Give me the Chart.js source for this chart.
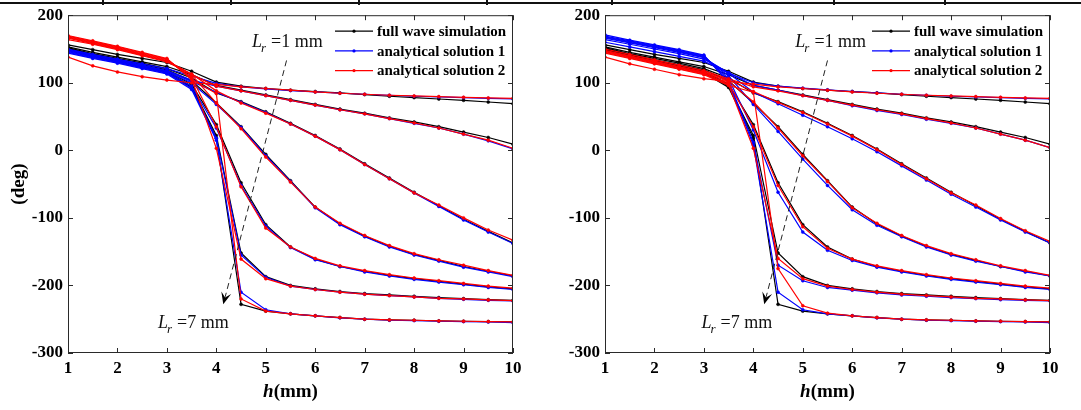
<!DOCTYPE html>
<html>
<head>
<meta charset="utf-8">
<script src="https://cdn.jsdelivr.net/npm/chart.js@4.4.0/dist/chart.umd.min.js"></script>
<style>
html,body{margin:0;padding:0;background:#fff;}
body{width:1081px;height:410px;position:relative;overflow:hidden;}
.panel{position:absolute;top:0;height:410px;}
#topline{position:absolute;left:0;top:2px;width:1081px;height:2px;background:#111;}
.mark{position:absolute;top:0;width:2px;height:5px;background:#111;}
</style>
</head>
<body>
<div id="topline"></div>
<div class="mark" style="left:102px"></div>
<div class="mark" style="left:230px"></div>
<div class="mark" style="left:358px"></div>
<div class="mark" style="left:486px"></div>
<div class="mark" style="left:611px"></div>
<div class="mark" style="left:722px"></div>
<div class="mark" style="left:833px"></div>
<div class="mark" style="left:944px"></div>
<canvas id="left" class="panel" style="left:0px" width="540" height="410"></canvas>
<canvas id="right" class="panel" style="left:540px" width="541" height="410"></canvas>
<script>
// ---------------- DATA ----------------
const hValues = [1, 1.5, 2, 2.5, 3, 3.5, 4, 4.5, 5, 5.5, 6, 6.5, 7, 7.5, 8, 8.5, 9, 9.5, 10];
const lrValues = [1, 2, 3, 4, 5, 6, 7];
const seriesNames = ['full wave simulation', 'analytical solution 1', 'analytical solution 2'];
const xTicks = [1, 2, 3, 4, 5, 6, 7, 8, 9, 10];
const yTicks = [-300, -200, -100, 0, 100, 200];

// full wave simulation (same in both panels), one row per Lr = 1..7 mm
const fullWave = [
  [156, 149, 142, 136, 130, 117, 101, 95, 91.5, 89, 87, 85, 82.5, 80, 78, 76, 74, 71.5, 69],
  [153, 145, 138, 131, 124, 112, 96, 89, 82, 75, 68, 61, 55, 48, 42, 35, 27, 19, 9],
  [152, 143, 136, 129, 121, 107, 85, 72, 57, 40, 22, 2, -20, -41, -62, -82, -102, -120, -137],
  [151, 142, 134, 127, 119, 103, 70, 35, -6, -45, -84, -109, -127, -142, -154, -163, -172, -179, -186],
  [150, 141, 133, 125, 117, 98, 38, -48, -110, -143, -161, -172, -179, -185, -190, -194, -198, -202, -205],
  [149, 140, 132, 124, 116, 95, 22, -152, -187, -200, -205, -209, -212, -214, -216, -218, -219.5, -221, -222],
  [148, 139, 131, 123, 115, 93, 18, -228, -238, -242, -245, -247.5, -250, -251, -251.5, -252.5, -253, -253.5, -254]
];

// left panel
const analytical1Left = [
  [150, 142, 135, 128, 121, 110, 99, 94, 91, 88.5, 86.5, 84.5, 83, 81.5, 80, 79, 78, 77, 76],
  [149, 141, 134, 126, 118, 104, 95, 88, 81, 74, 67, 60, 54, 47, 40, 33, 24, 14, 2],
  [148, 140, 133, 125, 117, 102, 86, 71, 56, 39, 21, 1, -21, -42, -63, -83, -103, -121, -138],
  [147, 139, 132, 124, 116, 100, 68, 34, -8, -46, -85, -110, -128, -143, -155, -164, -173, -180, -187],
  [146, 138, 131, 123, 115, 95, 33, -52, -112, -144, -162, -172, -180, -186, -191, -195, -199, -203, -206],
  [145, 137, 130, 122, 114, 92, 18, -155, -188, -201, -206, -210, -213, -215, -217, -219, -220.5, -222, -223],
  [144, 136, 129, 121, 113, 90, 15, -210, -236, -242, -245, -248, -250, -251.5, -252, -253, -253.5, -254, -255]
];
const analytical2Left = [
  [138, 125, 116, 109, 104, 100, 97.5, 94, 91.5, 89, 86.5, 84.5, 83, 81.5, 80.5, 79.5, 78.5, 77.5, 77],
  [164, 157, 149, 140, 131, 112, 95, 88, 81, 74, 67, 60, 54, 47, 40.5, 33, 24, 15, 3],
  [166, 158, 150, 141, 132, 113, 88, 70, 55, 39, 21, 1, -21, -42, -63, -81, -100, -118, -133],
  [167, 159, 151, 142, 133, 112, 70, 32, -10, -47, -84, -108, -126, -141, -153, -162, -170, -178, -185],
  [168, 160, 152, 143, 134, 108, 35, -54, -115, -143, -160, -171, -178, -184, -189, -193, -197, -201, -204],
  [169, 161, 153, 144, 135, 106, 3, -161, -190, -201, -206, -210, -213, -215, -217, -219, -220, -221.5, -222.5],
  [170, 162, 154, 145, 136, 105, 84, -220, -238, -242, -245, -247.5, -250, -251, -251.5, -252.5, -253, -253.5, -254]
];

// right panel
const analytical1Right = [
  [160, 153, 146, 139, 132, 114, 100, 95, 92, 89.5, 87, 85, 83, 81.5, 80, 79, 78, 77, 76],
  [164, 157, 150, 143, 135, 115, 96, 89, 81, 74, 66, 59, 53, 46, 40, 33, 24, 15, 4],
  [166, 159, 152, 145, 137, 114, 86, 69, 52, 35, 17, -2, -23, -44, -65, -84, -103, -121, -137],
  [167, 160, 153, 146, 138, 110, 68, 28, -13, -52, -88, -111, -128, -143, -155, -164, -172, -180, -186],
  [168, 161, 154, 147, 139, 106, 30, -62, -121, -148, -163, -173, -180, -186, -191, -195, -199, -203, -206],
  [169, 162, 155, 148, 140, 102, 12, -170, -193, -203, -207, -211, -214, -216, -218, -219.5, -221, -222, -223],
  [171, 163, 156, 149, 141, 100, 8, -210, -236, -242, -245, -248, -250, -251.5, -252, -253, -253.5, -254, -255]
];
const analytical2Right = [
  [138, 128, 120, 112, 106, 102, 98, 94, 91.5, 89, 86.5, 84.5, 83, 81.5, 80.5, 79.5, 78.5, 77.5, 77],
  [150, 142, 134, 126, 118, 106, 94, 88, 81, 74, 67, 60, 54, 47, 40.5, 33, 24, 15, 4],
  [148, 140, 132, 124, 116, 104, 87, 71, 56, 39, 21, 1, -21, -42, -63, -81, -101, -119, -135],
  [147, 139, 131, 123, 115, 102, 72, 33, -8, -46, -85, -108, -126, -141, -153, -162, -171, -178, -185],
  [146, 138, 130, 122, 114, 99, 35, -52, -113, -145, -161, -171, -178, -184, -189, -193, -197, -201, -204],
  [145, 137, 129, 121, 113, 97, 3, -160, -190, -201, -206, -210, -213, -215, -217, -219, -220, -221.5, -222.5],
  [144, 136, 128, 120, 112, 96, 86, -175, -230, -241, -245, -247.5, -250, -251, -251.5, -252.5, -253, -253.5, -254]
];

// ---------------- CHART ----------------
const FONT = '"Liberation Serif", "Times New Roman", serif';
const COLORS = ['#000000', '#0000ff', '#ff0000'];

function buildDatasets(a1, a2) {
  const ds = [];
  const add = (rows, si, order) => rows.forEach((row, i) => ds.push({
    label: seriesNames[si] + ' Lr=' + lrValues[i],
    data: hValues.map((h, j) => ({x: h, y: row[j]})),
    borderColor: COLORS[si], backgroundColor: COLORS[si],
    pointBackgroundColor: COLORS[si], pointBorderColor: COLORS[si],
    borderWidth: 1.2, pointRadius: 1.5, pointBorderWidth: 0.5, pointHoverRadius: 1.5,
    tension: 0, order: order
  }));
  add(fullWave, 0, 2);
  add(a1, 1, 1);
  add(a2, 2, 0);
  return ds;
}

function drawLr(ctx, px, py, num) {
  ctx.fillStyle = '#111';
  ctx.textAlign = 'left';
  ctx.textBaseline = 'alphabetic';
  ctx.font = 'italic 18px ' + FONT;
  ctx.fillText('L', px, py);
  let w = ctx.measureText('L').width;
  ctx.font = 'italic 13px ' + FONT;
  ctx.fillText('r', px + w - 1, py + 5);
  w += ctx.measureText('r').width + 4;
  ctx.font = '18px ' + FONT;
  ctx.fillText('=' + num + ' mm', px + w, py);
}

function decor(cfg) {
  return {
    id: 'decor',
    afterDatasetsDraw(chart) {
      const ctx = chart.ctx, ca = chart.chartArea, x = chart.scales.x, y = chart.scales.y;
      ctx.save();
      // frame
      ctx.strokeStyle = '#2a2a2a';
      ctx.lineWidth = 1;
      ctx.strokeRect(ca.left + 0.5, ca.top + 0.5, ca.right - ca.left - 1, ca.bottom - ca.top - 1);
      // inner tick marks
      const tl = 5;
      ctx.beginPath();
      xTicks.forEach(v => {
        const px = Math.round(x.getPixelForValue(v)) + 0.5;
        ctx.moveTo(px, ca.bottom); ctx.lineTo(px, ca.bottom - tl);
        ctx.moveTo(px, ca.top); ctx.lineTo(px, ca.top + tl);
      });
      yTicks.forEach(v => {
        const py = Math.round(y.getPixelForValue(v)) + 0.5;
        ctx.moveTo(ca.left, py); ctx.lineTo(ca.left + tl, py);
        ctx.moveTo(ca.right, py); ctx.lineTo(ca.right - tl, py);
      });
      ctx.stroke();

      // legend
      ctx.font = 'bold 15px ' + FONT;
      ctx.textBaseline = 'middle';
      ctx.textAlign = 'left';
      seriesNames.forEach((name, i) => {
        const ly = ca.top + 16 + i * 19.7;
        const x0 = ca.right - 178, x1 = ca.right - 140;
        ctx.strokeStyle = COLORS[i];
        ctx.lineWidth = 1.2;
        ctx.beginPath(); ctx.moveTo(x0, ly); ctx.lineTo(x1, ly); ctx.stroke();
        ctx.fillStyle = COLORS[i];
        ctx.beginPath(); ctx.arc((x0 + x1) / 2, ly, 1.6, 0, Math.PI * 2); ctx.fill();
        ctx.fillStyle = '#000';
        ctx.fillText(name, ca.right - 136, ly + 1);
      });

      // dashed arrow
      const p1x = x.getPixelForValue(cfg.arrowFrom[0]), p1y = y.getPixelForValue(cfg.arrowFrom[1]);
      const p2x = x.getPixelForValue(cfg.arrowTo[0]), p2y = y.getPixelForValue(cfg.arrowTo[1]);
      const ang = Math.atan2(p2y - p1y, p2x - p1x);
      const hl = 13;
      ctx.strokeStyle = '#222';
      ctx.lineWidth = 1;
      ctx.setLineDash([6, 4]);
      ctx.beginPath();
      ctx.moveTo(p1x, p1y);
      ctx.lineTo(p2x - Math.cos(ang) * hl * 0.6, p2y - Math.sin(ang) * hl * 0.6);
      ctx.stroke();
      ctx.setLineDash([]);
      ctx.fillStyle = '#000';
      ctx.beginPath();
      ctx.moveTo(p2x, p2y);
      ctx.lineTo(p2x - Math.cos(ang - 0.4) * hl, p2y - Math.sin(ang - 0.4) * hl);
      ctx.lineTo(p2x - Math.cos(ang) * hl * 0.55, p2y - Math.sin(ang) * hl * 0.55);
      ctx.lineTo(p2x - Math.cos(ang + 0.4) * hl, p2y - Math.sin(ang + 0.4) * hl);
      ctx.closePath();
      ctx.fill();

      drawLr(ctx, x.getPixelForValue(cfg.lr1Pos[0]), y.getPixelForValue(cfg.lr1Pos[1]), lrValues[0]);
      drawLr(ctx, x.getPixelForValue(cfg.lr7Pos[0]), y.getPixelForValue(cfg.lr7Pos[1]), lrValues[6]);

      // axis titles
      ctx.fillStyle = '#000';
      ctx.textBaseline = 'middle';
      const cx = (ca.left + ca.right) / 2;
      ctx.font = 'bold italic 19px ' + FONT;
      const wh = ctx.measureText('h').width;
      ctx.font = 'bold 19px ' + FONT;
      const wm = ctx.measureText('(mm)').width;
      const sx = cx - (wh + wm) / 2;
      ctx.textAlign = 'left';
      ctx.font = 'bold italic 19px ' + FONT;
      ctx.fillText('h', sx, 392);
      ctx.font = 'bold 19px ' + FONT;
      ctx.fillText('(mm)', sx + wh, 392);
      if (cfg.yTitle) {
        ctx.save();
        ctx.translate(cfg.yTitleX, (ca.top + ca.bottom) / 2);
        ctx.rotate(-Math.PI / 2);
        ctx.textAlign = 'center';
        ctx.fillText(cfg.yTitle, 0, 0);
        ctx.restore();
      }
      ctx.restore();
    }
  };
}

function makeChart(id, a1, a2, cfg) {
  new Chart(document.getElementById(id), {
    type: 'line',
    data: {datasets: buildDatasets(a1, a2)},
    options: {
      responsive: false,
      animation: false,
      events: [],
      layout: {padding: {left: 0, right: cfg.padRight, top: 15, bottom: 0}},
      plugins: {legend: {display: false}, tooltip: {enabled: false}},
      scales: {
        x: {
          type: 'linear', min: 1, max: 10,
          afterBuildTicks: s => { s.ticks = xTicks.map(v => ({value: v})); },
          afterFit: s => { s.height = 57; },
          grid: {display: false, drawTicks: false},
          border: {display: false},
          ticks: {color: '#000', padding: 5, maxRotation: 0, font: {family: FONT, size: 17, weight: 'bold'}}
        },
        y: {
          type: 'linear', min: -300, max: 200,
          afterBuildTicks: s => { s.ticks = yTicks.map(v => ({value: v})); },
          afterFit: s => { s.width = cfg.axisLeft; },
          grid: {display: false, drawTicks: false},
          border: {display: false},
          ticks: {color: '#000', padding: 5, font: {family: FONT, size: 17, weight: 'bold'}}
        }
      }
    },
    plugins: [decor(cfg)]
  });
}

makeChart('left', analytical1Left, analytical2Left, {
  axisLeft: 68, padRight: 27,
  arrowFrom: [5.42, 133], arrowTo: [4.14, -228],
  lr1Pos: [4.72, 153], lr7Pos: [2.82, -263],
  yTitle: '(deg)', yTitleX: 19
});
makeChart('right', analytical1Right, analytical2Right, {
  axisLeft: 65, padRight: 31,
  arrowFrom: [5.5, 133], arrowTo: [4.22, -228],
  lr1Pos: [4.85, 153], lr7Pos: [2.95, -263],
  yTitle: null
});
</script>
</body>
</html>
